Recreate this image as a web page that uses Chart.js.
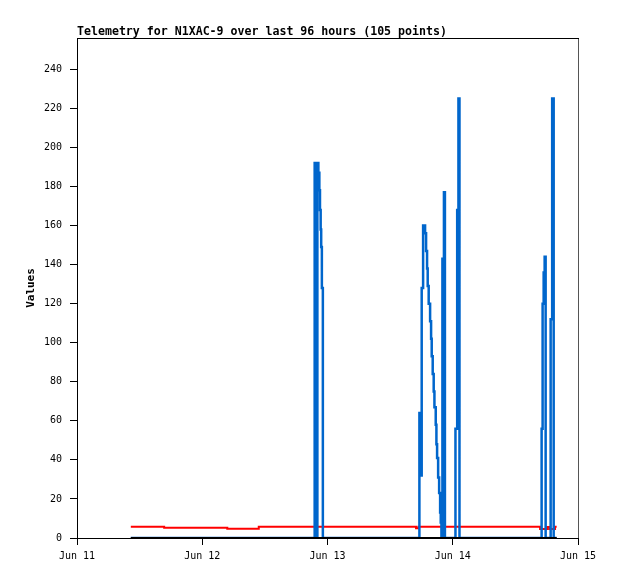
<!DOCTYPE html>
<html>
<head>
<meta charset="utf-8">
<script src="https://cdn.jsdelivr.net/npm/chart.js"></script>
<style>
html,body{margin:0;padding:0;background:#fff;}
</style>
</head>
<body>
<canvas id="chart" width="618" height="579"></canvas>
<script>

/* DATA (hours since Jun 11 00:00) */

const titleText = "Telemetry for N1XAC-9 over last 96 hours (105 points)";

const xTickLabels = ["Jun 11","Jun 12","Jun 13","Jun 14","Jun 15"];

const blueHours = [10.31, 45.54, 45.93, 46.06, 46.25, 46.44, 46.56, 46.69, 46.79, 46.92, 47.11,
65.61, 65.80, 66.05, 66.32, 66.70, 66.89, 67.08, 67.20, 67.39, 67.66, 67.85, 67.97, 68.16,
68.35, 68.49, 68.74, 68.87, 69.00, 69.20, 69.39, 69.58, 69.70, 69.83, 70.02, 70.31, 70.50,
72.52, 72.85, 73.09, 73.29, 89.03, 89.22, 89.42, 89.61, 89.80, 90.76, 91.05, 91.34, 91.91];

const blueValues = [0, 192, 0, 192, 187, 178, 168, 158, 149, 128, 0,
64, 32, 128, 160, 156, 147, 138, 129, 120, 111, 102, 93, 84,
75, 67, 58, 48, 41, 31, 23, 13, 8, 0, 143, 177, 0,
56, 168, 225, 0, 56, 120, 136, 144, 0, 112, 225, 0, 0];

const redHours = [10.31, 16.70, 28.80, 34.83, 64.97, 65.41, 88.74, 90.10, 90.50, 91.60, 91.91];
const redValues = [5.8, 5.3, 4.8, 5.8, 5.0, 5.8, 4.6, 5.6, 4.6, 5.8, 5.8];

const blackHours = [10.31, 91.91];
const blackValues = [0, 0];

const mono = "'DejaVu Sans Mono', monospace";

function pts(xs, ys){
return xs.map((x,i)=>({x:x, y:ys[i]}));
}

/* FRAME + TITLE */

const frame = {
id:"frame",
afterDraw(chart){
const {ctx, chartArea:a} = chart;
ctx.save();
ctx.lineWidth = 1;
ctx.strokeStyle = "#000";
ctx.beginPath();
ctx.moveTo(a.left, a.top+0.5);
ctx.lineTo(a.right+1, a.top+0.5);
ctx.stroke();
ctx.strokeStyle = "#555";
ctx.beginPath();
ctx.moveTo(a.right+0.5, a.top+1);
ctx.lineTo(a.right+0.5, a.bottom);
ctx.stroke();
ctx.fillStyle = "#000";
ctx.font = "bold 11.6px " + mono;
ctx.textBaseline = "alphabetic";
ctx.fillText(titleText, a.left, 35);
ctx.restore();
}
};

/* CHART */

const chart = new Chart(document.getElementById("chart"),{
type:"line",
data:{
datasets:[
{
data:pts(blackHours, blackValues),
borderColor:"#000",
borderWidth:2,
stepped:true,
pointRadius:0
},
{
data:pts(blueHours, blueValues),
borderColor:"#0066cc",
borderWidth:2.5,
stepped:true,
pointRadius:0
},
{
data:pts(redHours, redValues),
borderColor:"#ff0000",
borderWidth:2,
stepped:true,
pointRadius:0
}
]
},
options:{
responsive:false,
animation:false,
devicePixelRatio:1,
layout:{padding:{top:38,right:40,left:0,bottom:0}},
plugins:{
legend:{display:false},
tooltip:{enabled:false}
},
scales:{
x:{
type:"linear",
min:0,
max:96,
afterFit:s=>{ s.height = 41; },
ticks:{
stepSize:24,
autoSkip:false,
maxRotation:0,
padding:5,
color:"#000",
font:{family:mono,size:10},
callback:v=>xTickLabels[Math.round(v/24)]
},
grid:{drawOnChartArea:false,tickLength:7,color:"#000"},
border:{color:"#000"}
},
y:{
min:0,
max:256,
afterFit:s=>{ s.width = 77; },
ticks:{
stepSize:20,
includeBounds:false,
padding:8,
color:"#000",
font:{family:mono,size:10}
},
grid:{drawOnChartArea:false,tickLength:7,color:"#000"},
border:{color:"#000"},
title:{
display:true,
text:"Values",
color:"#000",
font:{family:mono,size:11,weight:"bold"},
padding:{top:25,bottom:0}
}
}
}
},
plugins:[frame]
});

</script>
</body>
</html>
